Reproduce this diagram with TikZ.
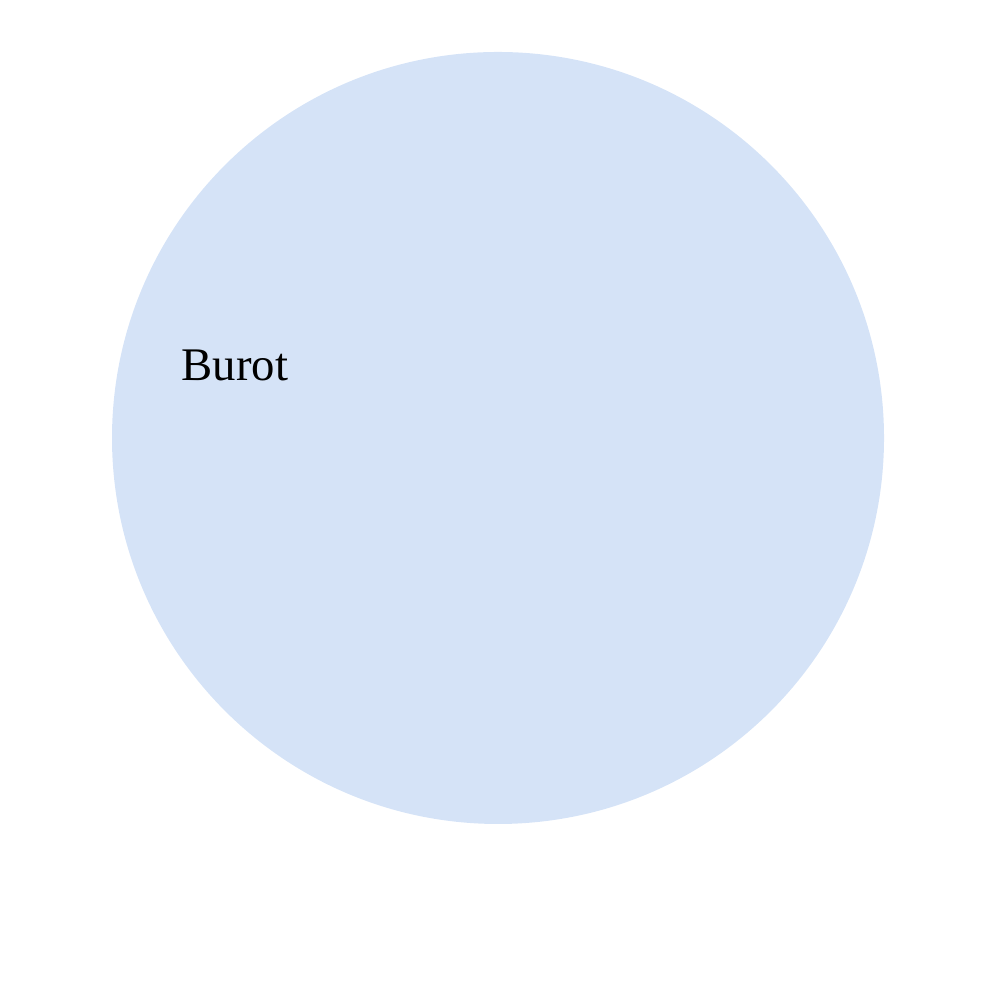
\documentclass[tikz,border=0pt]{standalone}
\usepackage{fontspec}
\setmainfont{Liberation Serif}
\usepackage{tikz}
\usetikzlibrary{positioning}
\definecolor{SetBlue}{HTML}{D5E3F7}

\begin{document}
\begin{tikzpicture}[x=1cm,y=1cm]
  \useasboundingbox (0,0) rectangle (10,10);
  \fill[SetBlue] (4.98,5.62) circle (3.86);
  \node[anchor=base west,inner sep=0pt,font=\fontsize{13.3}{16}\selectfont] (burot) at (1.81,6.19) {Burot};
\end{tikzpicture}
\end{document}
